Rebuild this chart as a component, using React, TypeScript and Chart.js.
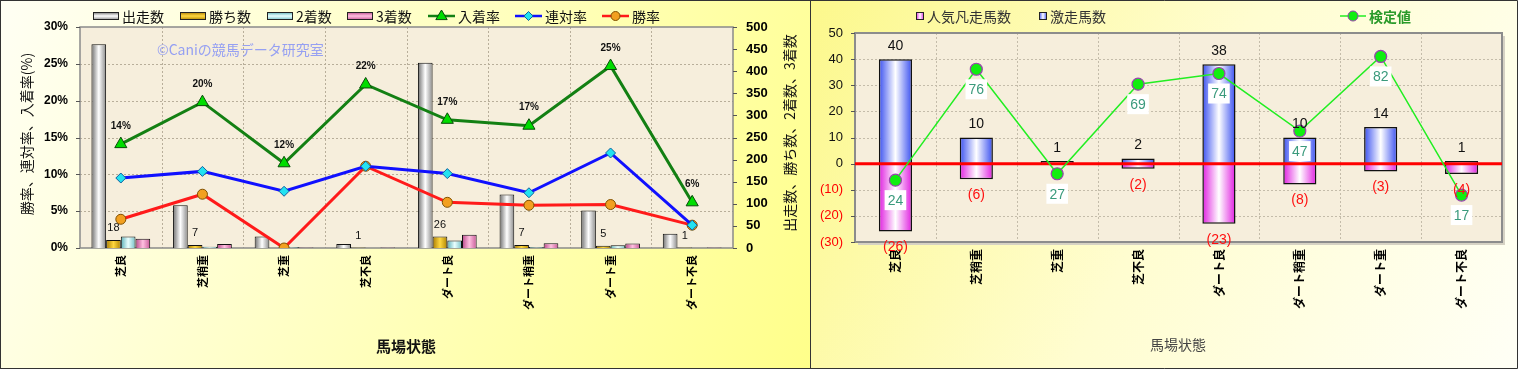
import { useEffect, useRef } from "react";
import { Chart, registerables } from "chart.js";

Chart.register(...registerables);

// ---------- data ----------
const categories = ["芝良", "芝稍重", "芝重", "芝不良", "ダート良", "ダート稍重", "ダート重", "ダート不良"];

// left chart – counts (right axis)
const starters = [461, 97, 26, 9, 419, 121, 85, 32];
const wins = [18, 7, 0, 1, 26, 7, 5, 1];
const seconds = [26, 3, 2, 0, 17, 2, 6, 0];
const thirds = [21, 9, 1, 1, 30, 11, 10, 1];

// left chart – rates in % (left axis)
const placeRate = [14.1, 19.8, 11.5, 22.2, 17.4, 16.6, 24.7, 6.2];
const quinellaRate = [9.5, 10.4, 7.7, 11.1, 10.1, 7.5, 12.9, 3.1];
const winRate = [3.9, 7.3, 0, 11.1, 6.2, 5.8, 5.9, 3.1];

const rateAxis = [0, 30, 5];
const countAxis = [0, 500, 50];

// right chart
const surgeCounts = [40, 10, 1, 2, 38, 10, 14, 1];
const flopCounts = [26, 6, 0, 2, 23, 8, 3, 4];
const testValues = [24, 76, 27, 69, 74, 47, 82, 17];
const diffAxis = [-30, 50, 10];
const testAxis = [-5, 93];

// ---------- styles ----------
const JP = '"Noto Sans CJK JP", "Noto Sans", sans-serif';
const AR = '"Liberation Sans", Arial, sans-serif';

const GRAY = ["#6e6e6e", "#ffffff", "#8a8a8a"];
const GOLD = ["#a87a00", "#ffd840", "#b08400"];
const CYAN = ["#58aeb6", "#eaffff", "#72bec6"];
const PINK = ["#b8468a", "#ffc0e0", "#c85898"];
const BLUE = ["#3a50f0", "#ffffff", "#3a50f0"];
const MAGENTA = ["#e020e0", "#ffffff", "#e020e0"];

function grad(ctx: CanvasRenderingContext2D, x0: number, y0: number, x1: number, y1: number, c: string[]) {
  const g = ctx.createLinearGradient(x0, y0, x1, y1);
  g.addColorStop(0, c[0]);
  g.addColorStop(0.5, c[1]);
  g.addColorStop(1, c[2]);
  return g;
}

function applyBarGradients(chart: any, map: Record<number, string[]>) {
  const ctx = chart.ctx;
  Object.keys(map).forEach((k) => {
    const idx = Number(k);
    const meta = chart.getDatasetMeta(idx);
    meta.data.forEach((el: any) => {
      const w = el.width || 1;
      const g = grad(ctx, el.x - w / 2, 0, el.x + w / 2, 0, map[idx]);
      el.options = Object.assign({}, el.options, { backgroundColor: g });
    });
  });
}

function drawMarker(ctx: CanvasRenderingContext2D, kind: string, x: number, y: number, r: number, fill: string, stroke: string) {
  ctx.save();
  ctx.beginPath();
  if (kind === "triangle") {
    ctx.moveTo(x, y - r);
    ctx.lineTo(x + r * 0.95, y + r * 0.6);
    ctx.lineTo(x - r * 0.95, y + r * 0.6);
    ctx.closePath();
  } else if (kind === "diamond") {
    ctx.moveTo(x, y - r);
    ctx.lineTo(x + r, y);
    ctx.lineTo(x, y + r);
    ctx.lineTo(x - r, y);
    ctx.closePath();
  } else {
    ctx.arc(x, y, r, 0, Math.PI * 2);
  }
  ctx.fillStyle = fill;
  ctx.fill();
  ctx.lineWidth = 1;
  ctx.strokeStyle = stroke;
  ctx.stroke();
  ctx.restore();
}

function drawPlotFrame(chart: any, bg: string, gridColor: string, yScaleId: string, border: string, bw: number) {
  const { ctx, chartArea: a } = chart;
  ctx.save();
  ctx.fillStyle = bg;
  ctx.fillRect(a.left, a.top, a.right - a.left, a.bottom - a.top);
  ctx.strokeStyle = gridColor;
  ctx.lineWidth = 1;
  ctx.setLineDash([2, 2]);
  const ys = chart.scales[yScaleId];
  ys.ticks.forEach((t: any) => {
    const py = Math.round(ys.getPixelForValue(t.value)) + 0.5;
    if (py > a.top + 2 && py < a.bottom - 2) {
      ctx.beginPath();
      ctx.moveTo(a.left, py);
      ctx.lineTo(a.right, py);
      ctx.stroke();
    }
  });
  const xs = chart.scales.x;
  for (let i = 1; i < categories.length; i++) {
    const px = Math.round((xs.getPixelForValue(i - 1) + xs.getPixelForValue(i)) / 2) + 0.5;
    ctx.beginPath();
    ctx.moveTo(px, a.top);
    ctx.lineTo(px, a.bottom);
    ctx.stroke();
  }
  ctx.setLineDash([]);
  ctx.strokeStyle = border;
  ctx.lineWidth = bw;
  ctx.strokeRect(a.left, a.top, a.right - a.left, a.bottom - a.top);
  ctx.restore();
}

function drawTickMarks(chart: any, id: string, side: "left" | "right") {
  const { ctx, chartArea: a } = chart;
  const s = chart.scales[id];
  ctx.save();
  ctx.strokeStyle = "#555";
  ctx.lineWidth = 1;
  s.ticks.forEach((t: any) => {
    const py = Math.round(s.getPixelForValue(t.value)) + 0.5;
    ctx.beginPath();
    if (side === "left") {
      ctx.moveTo(a.left - 4, py);
      ctx.lineTo(a.left, py);
    } else {
      ctx.moveTo(a.right, py);
      ctx.lineTo(a.right + 4, py);
    }
    ctx.stroke();
  });
  ctx.restore();
}

function rotText(ctx: CanvasRenderingContext2D, text: string, x: number, y: number, font: string, color: string) {
  ctx.save();
  ctx.translate(x, y);
  ctx.rotate(-Math.PI / 2);
  ctx.font = font;
  ctx.fillStyle = color;
  ctx.textAlign = "center";
  ctx.textBaseline = "middle";
  ctx.fillText(text, 0, 0);
  ctx.restore();
}

// ---------- left chart ----------
const leftPlugin = {
  id: "leftDeco",
  beforeDraw(chart: any) {
    const { ctx, width, height } = chart;
    ctx.save();
    ctx.fillStyle = grad(ctx, 0, 0, width, height, ["#fffff4", "#ffffc0", "#ffff8a"]);
    ctx.fillRect(0, 0, width, height);
    ctx.restore();
    drawPlotFrame(chart, "#f6eedc", "#b8ae9a", "y", "#8a8a8a", 1.5);
    drawTickMarks(chart, "y", "left");
    drawTickMarks(chart, "y1", "right");
    ctx.save();
    ctx.font = `14px ${JP}`;
    ctx.fillStyle = "#96a0f2";
    ctx.textBaseline = "middle";
    ctx.fillText("©Caniの競馬データ研究室", 157, 50);
    ctx.restore();
  },
  beforeDatasetsDraw(chart: any) {
    applyBarGradients(chart, { 3: GRAY, 4: GOLD, 5: CYAN, 6: PINK });
  },
  afterDatasetDraw(chart: any, args: any) {
    if (args.index !== 4) return;
    const { ctx } = chart;
    ctx.save();
    ctx.font = `11px ${AR}`;
    ctx.fillStyle = "#111";
    ctx.textAlign = "center";
    ctx.textBaseline = "middle";
    args.meta.data.forEach((el: any, i: number) => {
      if (!wins[i]) return;
      ctx.fillText(String(wins[i]), el.x, el.y - 12);
    });
    ctx.restore();
  },
  afterDraw(chart: any) {
    const { ctx, width, height } = chart;
    // rate labels
    ctx.save();
    ctx.font = `bold 10px ${AR}`;
    ctx.fillStyle = "#111";
    ctx.textAlign = "center";
    ctx.textBaseline = "middle";
    chart.getDatasetMeta(0).data.forEach((el: any, i: number) => {
      ctx.fillText(Math.round(placeRate[i]) + "%", el.x, el.y - 18);
    });
    ctx.restore();

    // legend
    ctx.save();
    ctx.font = `14px ${JP}`;
    ctx.textBaseline = "middle";
    ctx.fillStyle = "#111";
    const ly = 16;
    const bars: [string, string[], number][] = [
      ["出走数", GRAY, 93],
      ["勝ち数", GOLD, 180],
      ["2着数", CYAN, 267],
      ["3着数", PINK, 347],
    ];
    bars.forEach(([t, c, x]) => {
      ctx.fillStyle = grad(ctx, 0, ly - 4, 0, ly + 4, c);
      ctx.fillRect(x, ly - 4, 26, 8);
      ctx.strokeStyle = "#222";
      ctx.lineWidth = 1;
      ctx.strokeRect(x + 0.5, ly - 3.5, 25, 7);
      ctx.fillStyle = "#111";
      ctx.fillText(t, x + 29, ly + 1);
    });
    const lines: [string, string, string, string, string, number][] = [
      ["入着率", "#138013", "triangle", "#00dd00", "#0a4a0a", 428],
      ["連対率", "#1010ff", "diamond", "#22e2f0", "#1060a0", 515],
      ["勝率", "#ff1a1a", "circle", "#f2a020", "#805000", 602],
    ];
    lines.forEach(([t, col, kind, fill, stroke, x]) => {
      ctx.strokeStyle = col;
      ctx.lineWidth = 2.5;
      ctx.beginPath();
      ctx.moveTo(x, ly);
      ctx.lineTo(x + 27, ly);
      ctx.stroke();
      drawMarker(ctx, kind, x + 13.5, ly, kind === "triangle" ? 6 : 4.5, fill, stroke);
      ctx.fillStyle = "#111";
      ctx.fillText(t, x + 30, ly + 1);
    });
    ctx.restore();

    // axis titles
    rotText(ctx, "勝率、連対率、入着率(%)", 27, 134, `14px ${JP}`, "#111");
    rotText(ctx, "出走数、勝ち数、2着数、3着数", 790, 133, `14px ${JP}`, "#111");
    ctx.save();
    ctx.font = `bold 15px ${JP}`;
    ctx.fillStyle = "#111";
    ctx.textAlign = "center";
    ctx.textBaseline = "middle";
    ctx.fillText("馬場状態", 406, 346);
    ctx.strokeStyle = "#333";
    ctx.lineWidth = 1;
    ctx.strokeRect(0.5, 0.5, width - 1, height - 1);
    ctx.restore();
  },
};

function leftConfig(): any {
  return {
    type: "bar",
    data: {
      labels: categories,
      datasets: [
        { type: "line", label: "入着率", data: placeRate, yAxisID: "y", borderColor: "#138013", borderWidth: 3, pointStyle: "triangle", pointRadius: 7, pointBackgroundColor: "#00dd00", pointBorderColor: "#0a4a0a", pointBorderWidth: 1, order: 0 },
        { type: "line", label: "連対率", data: quinellaRate, yAxisID: "y", borderColor: "#1010ff", borderWidth: 3, pointStyle: "rectRot", pointRadius: 5, pointBackgroundColor: "#22e2f0", pointBorderColor: "#1060a0", pointBorderWidth: 1, order: 0 },
        { type: "line", label: "勝率", data: winRate, yAxisID: "y", borderColor: "#ff1a1a", borderWidth: 3, pointStyle: "circle", pointRadius: 5, pointBackgroundColor: "#f2a020", pointBorderColor: "#805000", pointBorderWidth: 1, order: 0 },
        { label: "出走数", data: starters, yAxisID: "y1", backgroundColor: "#ccc", borderColor: "#111", borderWidth: 1, order: 1 },
        { label: "勝ち数", data: wins, yAxisID: "y1", backgroundColor: "#fc0", borderColor: "#111", borderWidth: 1, order: 1 },
        { label: "2着数", data: seconds, yAxisID: "y1", backgroundColor: "#aee", borderColor: "#111", borderWidth: 1, order: 1 },
        { label: "3着数", data: thirds, yAxisID: "y1", backgroundColor: "#e8a", borderColor: "#111", borderWidth: 1, order: 1 },
      ],
    },
    options: {
      responsive: false,
      animation: false,
      devicePixelRatio: 1,
      events: [],
      layout: { padding: { top: 27, left: 0, right: 0, bottom: 0 } },
      datasets: { bar: { barPercentage: 1, categoryPercentage: 0.72 } },
      plugins: { legend: { display: false }, tooltip: { enabled: false } },
      scales: {
        x: {
          grid: { display: false, drawTicks: false },
          border: { display: false },
          ticks: { autoSkip: false, maxRotation: 90, minRotation: 90, padding: 7, color: "#000", font: { family: JP, size: 11, weight: "bold" } },
          afterFit: (s: any) => { s.height = 121; },
        },
        y: {
          position: "left",
          min: rateAxis[0],
          max: rateAxis[1],
          ticks: { stepSize: rateAxis[2], padding: 12, color: "#000", font: { family: AR, size: 12, weight: "bold" }, callback: (v: any) => v + "%" },
          grid: { display: false, drawTicks: false },
          border: { display: false },
          afterFit: (s: any) => { s.width = 80; },
        },
        y1: {
          position: "right",
          min: countAxis[0],
          max: countAxis[1],
          ticks: { stepSize: countAxis[2], padding: 13, color: "#000", font: { family: AR, size: 13, weight: "bold" } },
          grid: { display: false, drawTicks: false },
          border: { display: false },
          afterFit: (s: any) => { s.width = 78; },
        },
      },
    },
    plugins: [leftPlugin],
  };
}

// ---------- right chart ----------
const rightPlugin = {
  id: "rightDeco",
  beforeDraw(chart: any) {
    const { ctx, width, height } = chart;
    ctx.save();
    ctx.fillStyle = grad(ctx, 0, 0, width, height, ["#fcf88c", "#fffdd0", "#fffff6"]);
    ctx.fillRect(0, 0, width, height);
    const a = chart.chartArea;
    ctx.fillStyle = "#d6d2c4";
    ctx.fillRect(a.left + 3, a.top + 3, a.right - a.left, a.bottom - a.top);
    ctx.restore();
    drawPlotFrame(chart, "#f6eedc", "#c4bcaa", "y", "#8c8c8c", 2);
    drawTickMarks(chart, "y", "left");
  },
  beforeDatasetsDraw(chart: any) {
    applyBarGradients(chart, { 1: BLUE, 2: MAGENTA });
  },
  afterDatasetDraw(chart: any, args: any) {
    if (args.index !== 1) return;
    const { ctx, chartArea: a } = chart;
    const y0 = chart.scales.y.getPixelForValue(0);
    ctx.save();
    ctx.strokeStyle = "#ff0000";
    ctx.lineWidth = 3;
    ctx.beginPath();
    ctx.moveTo(a.left, y0);
    ctx.lineTo(a.right, y0);
    ctx.stroke();
    ctx.restore();
  },
  afterDraw(chart: any) {
    const { ctx, width, height } = chart;
    ctx.save();
    ctx.textAlign = "center";
    ctx.textBaseline = "middle";
    ctx.font = `14px ${AR}`;
    chart.getDatasetMeta(1).data.forEach((el: any, i: number) => {
      ctx.fillStyle = "#111";
      ctx.fillText(String(surgeCounts[i]), el.x, el.y - 13);
    });
    chart.getDatasetMeta(2).data.forEach((el: any, i: number) => {
      if (!flopCounts[i]) return;
      ctx.fillStyle = "#ff1010";
      ctx.fillText("(" + flopCounts[i] + ")", el.x, el.y + 16);
    });
    ctx.font = `14px ${AR}`;
    chart.getDatasetMeta(0).data.forEach((el: any, i: number) => {
      const t = String(testValues[i]);
      const w = ctx.measureText(t).width + 6;
      ctx.fillStyle = "#ffffff";
      ctx.fillRect(el.x - w / 2, el.y + 20 - 10, w, 20);
      ctx.fillStyle = "#3a9a7c";
      ctx.fillText(t, el.x, el.y + 21);
    });
    ctx.restore();

    // legend
    ctx.save();
    ctx.font = `14px ${JP}`;
    ctx.textBaseline = "middle";
    const ly = 16;
    const sq: [string, string[], number][] = [
      ["人気凡走馬数", MAGENTA, 105],
      ["激走馬数", BLUE, 228],
    ];
    sq.forEach(([t, c, x]) => {
      ctx.fillStyle = grad(ctx, x, 0, x + 8, 0, c);
      ctx.fillRect(x, ly - 4, 8, 8);
      ctx.strokeStyle = "#222";
      ctx.lineWidth = 1;
      ctx.strokeRect(x + 0.5, ly - 3.5, 7, 7);
      ctx.fillStyle = "#333";
      ctx.fillText(t, x + 11, ly + 1);
    });
    ctx.strokeStyle = "#22ee22";
    ctx.lineWidth = 1.5;
    ctx.beginPath();
    ctx.moveTo(529, ly);
    ctx.lineTo(555, ly);
    ctx.stroke();
    drawMarker(ctx, "circle", 542, ly, 5, "#10ee10", "#9a40b0");
    ctx.fillStyle = "#2a9a2a";
    ctx.font = `bold 14px ${JP}`;
    ctx.fillText("検定値", 558, ly + 1);
    ctx.restore();

    ctx.save();
    ctx.font = `14px ${JP}`;
    ctx.fillStyle = "#444";
    ctx.textAlign = "center";
    ctx.textBaseline = "middle";
    ctx.fillText("馬場状態", 367, 345);
    ctx.strokeStyle = "#333";
    ctx.lineWidth = 1;
    ctx.beginPath();
    ctx.moveTo(0, 0.5);
    ctx.lineTo(width - 0.5, 0.5);
    ctx.lineTo(width - 0.5, height - 0.5);
    ctx.lineTo(0, height - 0.5);
    ctx.stroke();
    ctx.restore();
  },
};

function rightConfig(): any {
  return {
    type: "bar",
    data: {
      labels: categories,
      datasets: [
        { type: "line", label: "検定値", data: testValues, yAxisID: "y2", borderColor: "#22ee22", borderWidth: 1.5, pointRadius: 6, pointBackgroundColor: "#10ee10", pointBorderColor: "#9a40b0", pointBorderWidth: 1.2, order: 0 },
        { label: "激走馬数", data: surgeCounts, yAxisID: "y", stack: "s", backgroundColor: "#66f", borderColor: "#111", borderWidth: 1.5, order: 1 },
        { label: "人気凡走馬数", data: flopCounts.map((v) => (v ? -v : null)), yAxisID: "y", stack: "s", backgroundColor: "#f6f", borderColor: "#111", borderWidth: 1.5, order: 2 },
      ],
    },
    options: {
      responsive: false,
      animation: false,
      devicePixelRatio: 1,
      events: [],
      layout: { padding: { top: 33, left: 0, right: 16, bottom: 0 } },
      datasets: { bar: { barPercentage: 0.41, categoryPercentage: 1 } },
      plugins: { legend: { display: false }, tooltip: { enabled: false } },
      scales: {
        x: {
          stacked: true,
          grid: { display: false, drawTicks: false },
          border: { display: false },
          ticks: { autoSkip: false, maxRotation: 90, minRotation: 90, padding: 7, color: "#000", font: { family: JP, size: 12, weight: "bold" } },
          afterFit: (s: any) => { s.height = 127; },
        },
        y: {
          stacked: true,
          position: "left",
          min: diffAxis[0],
          max: diffAxis[1],
          ticks: {
            stepSize: diffAxis[2],
            padding: 12,
            color: (c: any) => (c.tick && c.tick.value < 0 ? "#ff0000" : "#111"),
            font: { family: AR, size: 13 },
            callback: (v: any) => (v < 0 ? "(" + -v + ")" : String(v)),
          },
          grid: { display: false, drawTicks: false },
          border: { display: false },
          afterFit: (s: any) => { s.width = 44; },
        },
        y2: {
          display: false,
          min: testAxis[0],
          max: testAxis[1],
        },
      },
    },
    plugins: [rightPlugin],
  };
}

export default function App() {
  const leftRef = useRef<HTMLCanvasElement>(null);
  const rightRef = useRef<HTMLCanvasElement>(null);
  useEffect(() => {
    document.body.style.margin = "0";
    const c1 = new Chart(leftRef.current as HTMLCanvasElement, leftConfig());
    const c2 = new Chart(rightRef.current as HTMLCanvasElement, rightConfig());
    return () => {
      c1.destroy();
      c2.destroy();
    };
  }, []);
  return (
    <div style={{ display: "flex", width: 1518, height: 369 }}>
      <canvas ref={leftRef} width={811} height={369} style={{ display: "block", width: 811, height: 369 }} />
      <canvas ref={rightRef} width={707} height={369} style={{ display: "block", width: 707, height: 369 }} />
    </div>
  );
}
